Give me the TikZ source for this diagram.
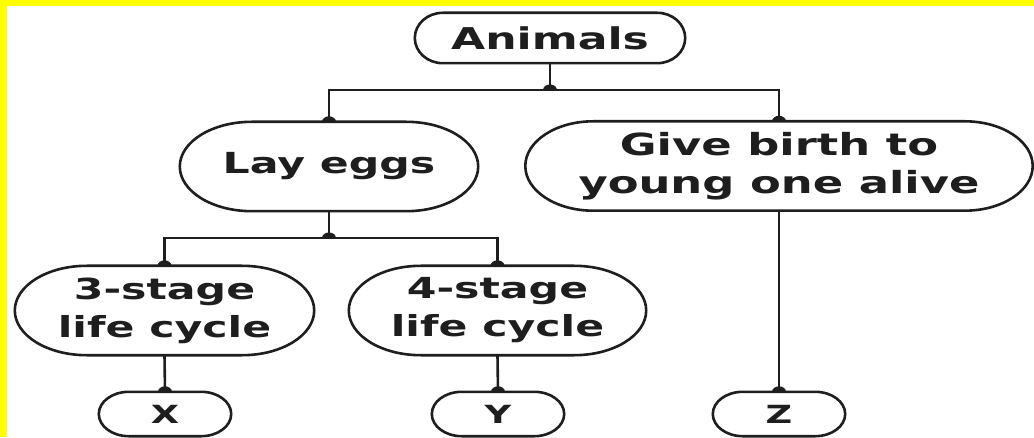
\documentclass[tikz,border=0pt]{standalone}
\usepackage{fontspec}
\newfontfamily\lblfont{DejaVu Sans}[FakeStretch=1.47]
\usetikzlibrary{calc}
\definecolor{ink}{HTML}{1E1E1E}
\definecolor{band}{HTML}{FFFF00}
\tikzset{
  lbl/.style={font=\lblfont\bfseries\fontsize{29}{38}\selectfont, text=ink, align=center, inner sep=0pt, shape=rectangle},
  outline/.style={draw=ink, line width=2.6pt},
  link/.style={draw=ink, line width=2.6pt},
}
\newcommand\pillshape[2]{%
  \draw[outline] let \p1=(#1.south west), \p2=(#1.north east), \n1={(\y2-\y1)/2} in
    (\x1+#2pt,\y1) -- (\x2-#2pt,\y1) arc[start angle=-90,end angle=90,x radius=#2pt,y radius=\n1]
    -- (\x1+#2pt,\y2) arc[start angle=90,end angle=270,x radius=#2pt,y radius=\n1] -- cycle;
}
\newcommand\dome[1]{%
  \fill[ink] (#1) ++(-7pt,0pt) arc[start angle=180,end angle=0,x radius=7pt,y radius=5.5pt] -- cycle;
}
\begin{document}
\begin{tikzpicture}[x=1pt,y=1pt]
\fill[white] (0,0) rectangle (1034,437);
\useasboundingbox (0,0) rectangle (1034,437);
\fill[band] (0,431) rectangle (1034,437);
\fill[band] (0,0) rectangle (7,437);

\node[lbl, font=\lblfont\bfseries\fontsize{30}{38}\selectfont, minimum width=270, minimum height=50] (animals) at (550,399) {Animals};
\node[lbl, minimum width=298, minimum height=89] (lay) at (329,270.5) {Lay eggs};
\node[lbl, font=\lblfont\bfseries\fontsize{30.5}{38}\selectfont, minimum width=507, minimum height=89] (give) at (779,271) {Give birth to\\young one alive};
\node[lbl, minimum width=299, minimum height=89] (s3) at (164.5,126.5) {3-stage\\life cycle};
\node[lbl, minimum width=297, minimum height=89] (s4) at (497.5,126.5) {4-stage\\life cycle};
\node[lbl, font=\lblfont\bfseries\fontsize{25}{30}\selectfont, minimum width=132, minimum height=44] (x) at (165,23) {X};
\node[lbl, font=\lblfont\bfseries\fontsize{25}{30}\selectfont, minimum width=132, minimum height=44] (y) at (498,23) {Y};
\node[lbl, font=\lblfont\bfseries\fontsize{25}{30}\selectfont, minimum width=132, minimum height=44] (z) at (779,23) {Z};

\pillshape{animals}{28}
\pillshape{lay}{72}
\pillshape{give}{68}
\pillshape{s3}{72}
\pillshape{s4}{72}
\pillshape{x}{30}
\pillshape{y}{30}
\pillshape{z}{30}

\coordinate (b1) at (550,347);
\coordinate (b2) at (329,199);

\draw[link] (animals.south) -- (b1);
\draw[link] (lay.north) |- (b1) -| (give.north);
\draw[link] (lay.south) -- (b2);
\draw[link] (s3.north) |- (b2) -| (s4.north);
\draw[link] (s3.south) -- (x.north);
\draw[link] (s4.south) -- (y.north);
\draw[link] (give.south) -- (z.north);

\dome{b1}
\dome{b2}
\dome{lay.north}
\dome{give.north}
\dome{s3.north}
\dome{s4.north}
\dome{x.north}
\dome{y.north}
\dome{z.north}
\end{tikzpicture}
\end{document}
